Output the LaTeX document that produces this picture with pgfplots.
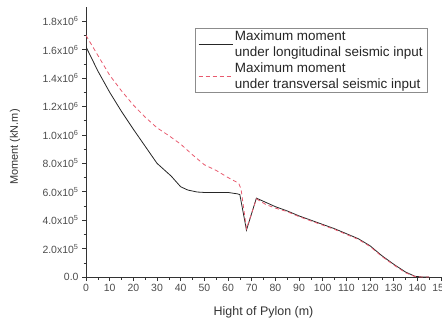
\documentclass[border=0pt]{standalone}
\usepackage{pgfplots}
\pgfplotsset{compat=1.18}
\usepackage{fontspec}
\setmainfont{Liberation Sans}
\definecolor{pinkred}{RGB}{232,90,110}
\begin{document}
\begin{tikzpicture}[x=1bp,y=1bp]
\clip (0,0) rectangle (442,324);
\useasboundingbox (0,0) rectangle (442,324);
\begin{axis}[
  at={(86bp,47bp)}, anchor=origin,
  scale only axis, width=355bp, height=270bp,
  xmin=0, xmax=150, ymin=0, ymax=1.9,
  axis lines*=left,
  axis line style={black!80, line width=0.6pt},
  tick align=outside, tick style={black!80, line width=0.5pt},
  major tick length=4bp, minor tick length=2.5bp,
  xtick={0,10,...,150}, minor x tick num=1,
  ytick={0,0.2,...,1.8}, minor y tick num=1,
  yticklabels={0.0,2.0x10\textsuperscript{5},4.0x10\textsuperscript{5},6.0x10\textsuperscript{5},8.0x10\textsuperscript{5},1.0x10\textsuperscript{6},1.2x10\textsuperscript{6},1.4x10\textsuperscript{6},1.6x10\textsuperscript{6},1.8x10\textsuperscript{6}},
  /pgf/number format/assume math mode=true,
  ticklabel style={font=\fontsize{10.5}{11}\selectfont, text=black!70},
  xlabel={Hight of Pylon (m)}, ylabel={Moment (kN.m)},
  every axis x label/.style={at={(axis description cs:0.5,0)}, anchor=center, yshift=-35bp,
    font=\fontsize{12.5}{13}\selectfont, text=black!80},
  every axis y label/.style={at={(axis description cs:0,0.5)}, anchor=center, rotate=90, yshift=71bp, xshift=-5bp,
    font=\fontsize{11}{12}\selectfont, text=black!80},
  legend style={at={(0.307,0.922)}, anchor=north west, draw=black!45, line width=0.4pt,
    font=\fontsize{13.5}{16}\selectfont, text=black!85, cells={align=left},
    inner xsep=3bp, inner ysep=1bp, row sep=0bp},
  legend cell align=left,
  legend image code/.code={\draw[#1] (0bp,0bp) -- (34bp,0bp);},
]
\addplot[black!85, line width=0.8pt] coordinates {
(0,1.62) (5,1.45) (10,1.30) (15,1.165) (20,1.04) (25,0.92) (30,0.80) (33,0.755)
(36,0.71) (40,0.635) (43,0.612) (47,0.598) (50,0.595) (55,0.595) (60,0.595) (64,0.585)
(65,0.58) (67.8,0.33) (72,0.555) (76,0.525) (80,0.495) (85,0.465) (90,0.43) (95,0.40)
(100,0.37) (105,0.34) (110,0.305) (115,0.27) (120,0.22) (125,0.15) (130,0.09)
(135,0.035) (139,0.005) (142,0.0) (145,0.0)
};
\addlegendentry{Maximum moment\\under longitudinal seismic input}
\addplot[pinkred, dash pattern=on 4bp off 3bp, line width=0.8pt] coordinates {
(0,1.70) (5,1.56) (10,1.42) (15,1.31) (20,1.21) (25,1.125) (30,1.05) (35,0.995)
(40,0.935) (45,0.86) (50,0.79) (55,0.75) (60,0.70) (64.5,0.66) (65.5,0.62)
(67.8,0.34) (72,0.55) (76,0.51) (80,0.485) (85,0.46) (90,0.425) (95,0.395)
(100,0.365) (105,0.335) (110,0.30) (115,0.265) (120,0.215) (125,0.145) (130,0.085)
(135,0.03) (139,0.003) (142,0.0) (145,0.0)
};
\addlegendentry{Maximum moment\\under transversal seismic input}
\end{axis}
\end{tikzpicture}
\end{document}
